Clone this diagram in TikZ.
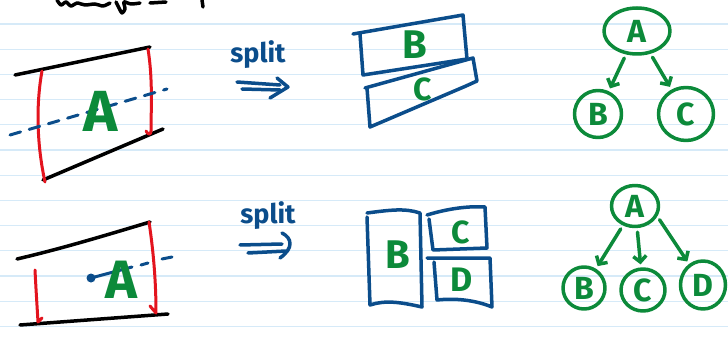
\documentclass[tikz,border=0pt]{standalone}
\usepackage{fontspec}
\setmainfont{Fira Sans}
\usetikzlibrary{arrows.meta,shapes.geometric}
\definecolor{rulec}{HTML}{D6EAF8}
\definecolor{ink}{HTML}{0B4D8B}
\definecolor{grn}{HTML}{0C8A3A}
\definecolor{rd}{HTML}{E3141E}
\begin{document}
\begin{tikzpicture}[x=1pt,y=-1pt,
  pen/.style={line width=3.5pt,line cap=round,line join=round},
  redpen/.style={pen,rd,line width=3pt},
  bluepen/.style={pen,ink},
  letter/.style={text=grn,font=\bfseries\fontsize{#1}{#1}\selectfont,inner sep=0pt},
  treenode/.style={draw=grn,pen,ellipse,inner sep=0pt,text=grn,font=\bfseries\fontsize{32}{32}\selectfont},
  arr/.style={pen,grn,-{Straight Barb[length=6pt,width=13pt]},shorten >=3pt,shorten <=4pt},
  splitlabel/.style={text=ink,font=\bfseries\fontsize{27}{27}\selectfont,inner sep=0pt}]
\useasboundingbox (0,0) rectangle (728,339);
\fill[white] (0,0) rectangle (728,339);
% ruled paper
\foreach \yy in {24,49.2,...,330} \draw[rulec,line width=1.2pt] (0,\yy) -- (728,\yy);
% cut-off heading strokes
\draw[pen,black] plot[smooth] coordinates {(57,0) (61,5) (66,2) (71,6) (77,3) (85,5) (95,4) (103,6) (110,3)};
\draw[pen,black] plot[smooth] coordinates {(116,2) (119,8) (122,13) (125,9) (124,2) (131,4) (140,3)};
\draw[pen,black] (150,3) -- (166,2);
\draw[pen,black] (202,0) -- (203,7);

% ---------- top-left region ----------
\draw[pen,black] (15,75) -- (150,47);
\draw[pen,black] (43,180) -- (163,129);
\draw[redpen] (42,71) .. controls (35,110) and (38,150) .. (45,182);
\draw[redpen] (148,49) .. controls (153,80) and (151,110) .. (151,131) .. controls (151,135) and (148,135) .. (146,131);
\draw[pen,ink,line width=3pt,dash pattern=on 11pt off 9pt] (10,135) -- (167,89);
\node[letter=58] (A1) at (101,111) {A};

% ---------- bottom-left region ----------
\draw[pen,black] (17,259) .. controls (60,249) and (100,237) .. (150,222);
\draw[pen,black] (20,325) -- (168,314);
\draw[redpen] (35,270) .. controls (36,290) and (37,305) .. (38,322) -- (42,318);
\draw[redpen] (149,222) .. controls (154,255) and (156,285) .. (156,313) -- (150,306);
\fill[ink] (91,278) circle (4.5pt);
\draw[pen,ink,line width=3pt] (91,278) -- (132,267);
\draw[pen,ink,line width=3pt] (141,265) -- (148,263);
\draw[pen,ink,line width=3pt] (162,259) -- (172,257);
\node[letter=54] (A2) at (121,280) {A};

% ---------- split arrows ----------
\node[splitlabel] (s1) at (258,55) {split};
\coordinate (s1a) at (237,82); \coordinate (s1b) at (280,85);
\coordinate (s1c) at (242,89); \coordinate (s1d) at (280,90);
\coordinate (s1t) at (288,87);
\draw[bluepen] (s1a) -- (s1b);
\draw[bluepen] (s1c) -- (s1d);
\draw[bluepen] (277,78) -- (s1t) -- (270,98);

\node[splitlabel] (s2) at (268,216) {split};
\coordinate (s2a) at (240,245); \coordinate (s2b) at (282,244);
\coordinate (s2c) at (248,253); \coordinate (s2d) at (286,251);
\draw[bluepen] (s2a) -- (s2b);
\draw[bluepen] (s2c) -- (s2d);
\draw[bluepen] (282,233) .. controls (292,238) and (294,248) .. (280,258);

% ---------- top boxes ----------
\draw[bluepen] (353,34) -- (463,15) -- (467,59) -- (363,75) -- (360,34);
\draw[bluepen] (365,88) -- (473,58) -- (477,81) -- (466,86) -- (370,127) -- (367,88);
\node[letter=40] (B1) at (415,45) {B};
\node[letter=32] (C1) at (423,89) {C};

% ---------- bottom boxes ----------
\draw[bluepen] (367,213) .. controls (390,210) and (405,208) .. (420,213) -- (422,307) .. controls (400,302) and (385,300) .. (370,305) -- (367,217);
\draw[bluepen] (427,215) .. controls (450,208) and (470,206) .. (485,207) -- (487,248) -- (433,250) -- (429,219);
\draw[bluepen] (427,258) -- (490,258) -- (492,307) .. controls (475,300) and (455,298) .. (437,300) -- (434,262);
\node[letter=40] (B2) at (398,255) {B};
\node[letter=32] (C2) at (461,232) {C};
\node[letter=34] (D2) at (462,280) {D};

% ---------- top tree ----------
\node[treenode,minimum width=66pt,minimum height=46pt] (tA1) at (637,31) {A};
\node[treenode,minimum width=47pt,minimum height=47pt] (tB1) at (598,114) {B};
\node[treenode,minimum width=55pt,minimum height=53pt] (tC1) at (686,114) {C};
\draw[arr] (tA1) -- (tB1);
\draw[arr] (tA1) -- (tC1);

% ---------- bottom tree ----------
\node[treenode,minimum width=47pt,minimum height=41pt] (tA2) at (635,206) {A};
\node[treenode,minimum width=42pt,minimum height=42pt] (tB2) at (584,288) {B};
\node[treenode,minimum width=44pt,minimum height=42pt] (tC2) at (643,290) {C};
\node[treenode,minimum width=45pt,minimum height=48pt] (tD2) at (703,285) {D};
\draw[arr] (tA2) -- (tB2);
\draw[arr] (tA2) -- (tC2);
\draw[arr] (tA2.-25) -- (tD2);
\end{tikzpicture}
\end{document}
